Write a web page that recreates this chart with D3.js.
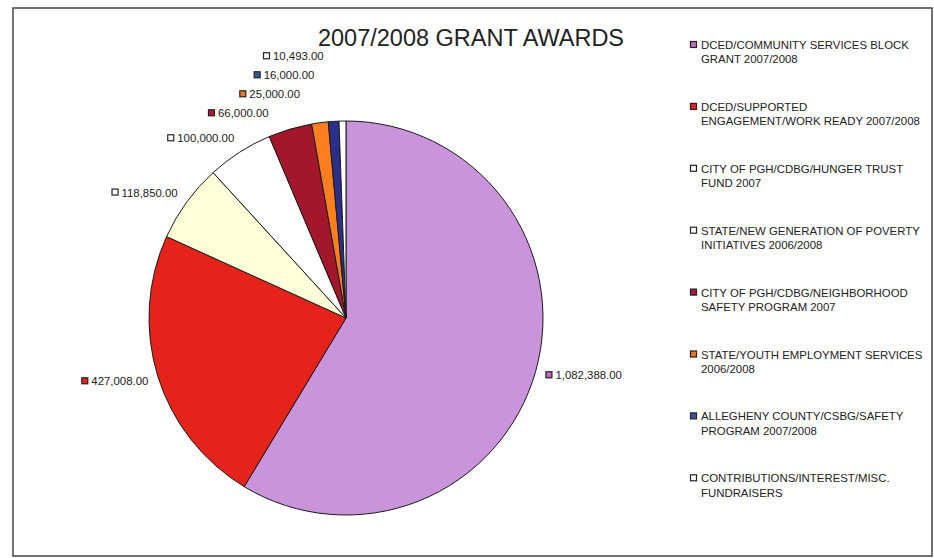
<!DOCTYPE html>
<html>
<head>
<meta charset="utf-8">
<script src="https://cdn.jsdelivr.net/npm/d3@7"></script>
<style>
  body { margin: 0; background: #fff; }
  svg { display: block; }
  text { font-family: "Liberation Sans", Arial, sans-serif; fill: #222; }
</style>
</head>
<body>
<div id="chart"></div>
<script>
const categories = [
    "DCED/COMMUNITY SERVICES BLOCK|GRANT 2007/2008",
    "DCED/SUPPORTED|ENGAGEMENT/WORK READY 2007/2008",
    "CITY OF PGH/CDBG/HUNGER TRUST|FUND 2007",
    "STATE/NEW GENERATION OF POVERTY|INITIATIVES 2006/2008",
    "CITY OF PGH/CDBG/NEIGHBORHOOD|SAFETY PROGRAM 2007",
    "STATE/YOUTH EMPLOYMENT SERVICES|2006/2008",
    "ALLEGHENY COUNTY/CSBG/SAFETY|PROGRAM 2007/2008",
    "CONTRIBUTIONS/INTEREST/MISC.|FUNDRAISERS"
];
const values = [1082388, 427008, 118850, 100000, 66000, 25000, 16000, 10493];
const colors = ["#c994d9", "#e6231b", "#ffffd9", "#ffffff", "#a3162c", "#ff7f1f", "#2c2e8c", "#ffffff"];
const markerColors = ["#c767bd", "#e6231b", "#ffffff", "#ffffff", "#b0173a", "#f27424", "#3a55a0", "#ffffff"];
const title = "2007/2008 GRANT AWARDS";

let width = 934, height = 558;
let cx = 346, cy = 318, radius = 197;
let fontSize = 11.4;

var svg = d3.select("#chart").append("svg")
    .attr("width", width)
    .attr("height", height);

// chart frame
svg.append("rect")
    .attr("x", 13).attr("y", 8)
    .attr("width", 919).attr("height", 548)
    .attr("fill", "none")
    .attr("stroke", "#444")
    .attr("stroke-width", 1.5);

svg.append("text")
    .attr("x", 471).attr("y", 46)
    .attr("text-anchor", "middle")
    .style("font-size", "23.5px")
    .text(title);

let pie = d3.pie().sort(null).value(d => d);
let arcs = pie(values);

let arc = d3.arc().innerRadius(0).outerRadius(radius);

var g = svg.append("g")
    .attr("transform", `translate(${cx},${cy})`);

g.selectAll("path")
    .data(arcs)
    .join("path")
    .attr("d", arc)
    .attr("fill", (d, i) => colors[i])
    .attr("stroke", "#1a1a1a")
    .attr("stroke-width", 1)
    .attr("stroke-linejoin", "round");

// data labels, excel style: outside the pie, pushed apart when crowded
let fmt = d3.format(",.2f");
let lr = radius + 10;
let labels = arcs.map((d, i) => {
    let a = (d.startAngle + d.endAngle) / 2;
    let s = Math.sin(a), c = Math.cos(a);
    let text = fmt(values[i]);
    let w = 10 + text.length * fontSize * 0.5;
    let x = cx + s * lr;
    let y = cy - c * lr - c * 6.5;
    if (c > 0.9) x -= 18; // top labels sit further left
    return {i, text, left: s < 0, x, y, w};
});

// resolve overlap for left-hand labels, pushing upward
let leftSide = labels.filter(l => l.left).sort((a, b) => b.y - a.y);
for (let k = 1; k < leftSide.length; k++) {
    leftSide[k].y = Math.min(leftSide[k].y, leftSide[k - 1].y - 19);
}

let lab = svg.append("g").selectAll("g")
    .data(labels)
    .join("g")
    .attr("transform", d => `translate(${d.left ? d.x - d.w : d.x},${d.y})`);

lab.append("rect")
    .attr("x", 0.5).attr("y", -3.5)
    .attr("width", 6).attr("height", 6)
    .attr("fill", d => markerColors[d.i])
    .attr("stroke", "#222")
    .attr("stroke-width", 1.2);

lab.append("text")
    .attr("x", 10).attr("y", 4)
    .style("font-size", fontSize + "px")
    .text(d => d.text);

// legend
let legend = svg.append("g").selectAll("g")
    .data(categories)
    .join("g")
    .attr("transform", (d, i) => `translate(690,${45 + i * 61.9})`);

legend.append("rect")
    .attr("x", 0.5).attr("y", -3.5)
    .attr("width", 6).attr("height", 6)
    .attr("fill", (d, i) => markerColors[i])
    .attr("stroke", "#222")
    .attr("stroke-width", 1.2);

legend.append("text")
    .style("font-size", fontSize + "px")
    .selectAll("tspan")
    .data(d => d.split("|"))
    .join("tspan")
    .attr("x", 11)
    .attr("y", (d, j) => 4 + j * 14.3)
    .text(d => d);
</script>
</body>
</html>
